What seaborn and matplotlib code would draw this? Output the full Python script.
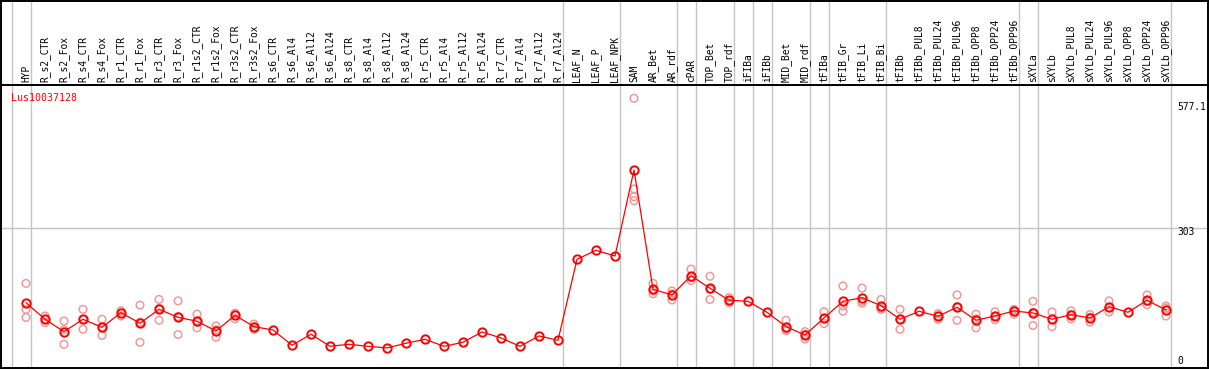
import matplotlib
matplotlib.use("Agg")
import matplotlib.pyplot as plt
import seaborn as sns
import pandas as pd
import numpy as np

gene_id = "Lus10037128"

categories = [
    "HYP", "R_s2_CTR", "R_s2_Fox", "R_s4_CTR", "R_s4_Fox", "R_r1_CTR", "R_r1_Fox",
    "R_r3_CTR", "R_r3_Fox", "R_r1s2_CTR", "R_r1s2_Fox", "R_r3s2_CTR", "R_r3s2_Fox",
    "R_s6_CTR", "R_s6_Al4", "R_s6_Al12", "R_s6_Al24", "R_s8_CTR", "R_s8_Al4",
    "R_s8_Al12", "R_s8_Al24", "R_r5_CTR", "R_r5_Al4", "R_r5_Al12", "R_r5_Al24",
    "R_r7_CTR", "R_r7_Al4", "R_r7_Al12", "R_r7_Al24", "LEAF_N", "LEAF_P", "LEAF_NPK",
    "SAM", "AR_Bet", "AR_rdf", "cPAR", "TOP_Bet", "TOP_rdf", "iFIBa", "iFIBb",
    "MID_Bet", "MID_rdf", "tFIBa", "tFIB_Gr", "tFIB_Li", "tFIB_Bi", "tFIBb",
    "tFIBb_PUL8", "tFIBb_PUL24", "tFIBb_PUL96", "tFIBb_OPP8", "tFIBb_OPP24",
    "tFIBb_OPP96", "sXYLa", "sXYLb", "sXYLb_PUL8", "sXYLb_PUL24", "sXYLb_PUL96",
    "sXYLb_OPP8", "sXYLb_OPP24", "sXYLb_OPP96",
]

means = [
    145.2, 110.1, 83.9, 110.1, 93.2, 124.1, 101.7, 131.2, 114.3, 105.9, 85.4, 118.6, 94.5,
    87.5, 55.2, 78.4, 53.0, 57.3, 53.0, 49.5, 59.4, 67.8, 53.0, 61.5, 83.3,
    70.6, 53.0, 74.8, 65.7, 236.9, 255.9, 243.9,
    425.6, 173.5, 161.5, 202.2, 175.6, 150.3, 148.1, 124.9,
    94.5, 76.9, 112.9, 148.1, 155.8, 138.8, 110.1,
    127.0, 116.4, 135.5, 108.0, 117.1, 127.6,
    123.4, 110.1, 119.8, 112.9, 136.7, 124.9, 150.3, 129.8,
]

replicates = [
    [186, 131, 114], [117, 103, 110], [106.5, 57.3, 88], [131, 89, 110], [110, 76, 93],
    [128, 117, 127], [140, 61.5, 104], [152, 108, 133], [149, 78, 116], [121, 92, 104],
    [96, 72, 88], [123, 111, 122], [100, 89, 94],
    [], [], [], [], [], [], [], [], [], [], [], [], [], [], [], [], [], [], [],
    [577.1, 385.5, 369.2, 360.7], [186, 164, 170], [170, 151, 164], [216, 192, 198],
    [201, 152, 173], [145, 150, 156], [], [],
    [108, 86, 89.5], [84, 68.5, 78], [126, 101, 112], [180.5, 127, 138], [176, 144, 148],
    [152, 131, 133], [131, 89, 110],
    [], [110, 117, 122], [161.5, 108, 137], [121, 92, 111], [126, 109, 116.5], [131, 121, 130],
    [148, 97, 125], [125.5, 94.5, 110], [128, 111, 120], [120, 104, 114.5], [149, 125.5, 135],
    [], [161.5, 141, 148], [138, 117, 134],
]

separator_after = ["HYP", "R_r7_Al24", "LEAF_NPK", "AR_rdf", "cPAR", "TOP_rdf", "iFIBa",
                   "iFIBb", "MID_rdf", "tFIBa", "tFIB_Bi", "tFIBb_OPP96", "sXYLa", "sXYLb_OPP96"]

y_label_values = [577.1, 303, 0]
y_label_texts = ["577.1", "303", "0"]

# ---- data frames ----
pos = np.arange(len(categories))
df_mean = pd.DataFrame({"pos": pos, "value": means})
rep_rows = [(i, v) for i, reps in enumerate(replicates) for v in reps]
df_rep = pd.DataFrame(rep_rows, columns=["pos", "value"])

sns.set_style("white")
plt.rcParams["font.family"] = ["DejaVu Sans Mono", "DejaVu Sans"]

W, H = 1209, 370
fig = plt.figure(figsize=(W / 100, H / 100), dpi=100)
fig.patch.set_facecolor("white")

# pixel layout
left_px, right_px = 1, 1208
header_bottom_px = 85
plot_bottom_px = 368
step_px = 19.0
first_px = 26.0

ax = fig.add_axes([left_px / W, (H - plot_bottom_px) / H, (right_px - left_px) / W,
                   (plot_bottom_px - header_bottom_px) / H])
axh = fig.add_axes([left_px / W, (H - header_bottom_px) / H, (right_px - left_px) / W,
                    (header_bottom_px - 0.5) / H])

xlim = ((left_px - first_px) / step_px, (right_px - first_px) / step_px)
# value scale: 303 at pixel 228, max 577.1 at pixel 98.3
px_per_unit = (228 - 98.3) / (577.1 - 303)
zero_px = 228 + 303 * px_per_unit
ylim = ((zero_px - plot_bottom_px) / px_per_unit, (zero_px - header_bottom_px) / px_per_unit)

grey = "#c4c4c4"
for a in (ax, axh):
    a.set_xlim(*xlim)
    a.set_xticks([])
    a.set_yticks([])
    for s in a.spines.values():
        s.set_color("black")
        s.set_linewidth(1.4)
    sep_positions = [-0.75] + [categories.index(c) + 0.25 for c in separator_after]
    for sp in sep_positions:
        a.axvline(sp, color=grey, lw=1.0, zorder=0.5)

ax.set_ylim(*ylim)
ax.axhline(303, color=grey, lw=1.0, zorder=0.5)

# replicate circles
sns.scatterplot(data=df_rep, x="pos", y="value", ax=ax, marker="o", s=30,
                facecolors="none", edgecolor="#f09a9a", linewidth=1.1, zorder=2,
                legend=False)
# mean line
sns.lineplot(data=df_mean, x="pos", y="value", ax=ax, color="#ff0000", lw=0.9,
             marker="o", markersize=6, markerfacecolor="none", markeredgecolor="#ff0000",
             markeredgewidth=1.4, zorder=3, legend=False)
ax.set_xlabel("")
ax.set_ylabel("")

# gene id
ax.text(0.008, 0.955, gene_id, transform=ax.transAxes, color="#ff0000", fontsize=7.2,
        ha="left", va="center")

# right labels
offsets = [-9, -4, 10]
for v, t, off in zip(y_label_values, y_label_texts, offsets):
    ax.annotate(t, xy=(60.58, v), xytext=(0, off), textcoords="offset pixels",
                ha="left", va="center", fontsize=6.9, color="black", annotation_clip=False)

# header labels
axh.set_ylim(0, 1)
for i, c in enumerate(categories):
    axh.text(i, 0.035, c, rotation=90, ha="center", va="bottom", fontsize=6.9,
             color="black")

fig.savefig("out.png", dpi=100, facecolor="white")
